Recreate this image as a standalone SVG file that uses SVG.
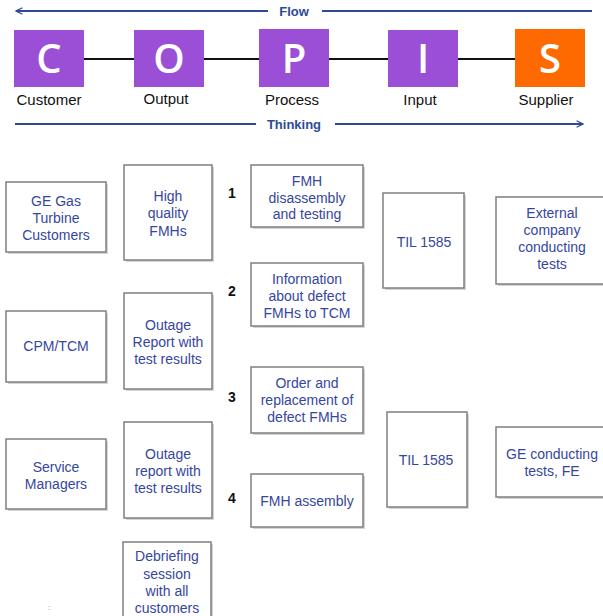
<svg xmlns="http://www.w3.org/2000/svg" width="603" height="616" viewBox="0 0 603 616">
<style>
.bg{fill:#fff}
.let{fill:#fff;font-family:"Open Sans","Liberation Sans",Arial,sans-serif;font-size:40px;font-weight:600;text-anchor:middle}
.lab{fill:#111;font-family:"Liberation Sans",Arial,sans-serif;font-size:15px;text-anchor:middle}
.axis{fill:#2E4A96;font-family:"Liberation Sans",Arial,sans-serif;font-size:13px;font-weight:bold;text-anchor:middle}
.ax{stroke:#2E4A96;stroke-width:2;fill:none}
.box{fill:#fff;stroke:#7f7f7f;stroke-width:1.5}
.sh{fill:#d4d4d4}
.t{fill:#3546A0;font-family:"Liberation Sans",Arial,sans-serif;font-size:14px;text-anchor:middle}
.num{fill:#111;font-family:"Liberation Sans",Arial,sans-serif;font-size:14px;font-weight:bold;text-anchor:middle}
</style>
<defs>
<marker id="ah" viewBox="0 0 10 10" refX="9" refY="5" markerWidth="8" markerHeight="8" orient="auto-start-reverse" markerUnits="userSpaceOnUse">
<path d="M1,1 L9,5 L1,9" fill="none" stroke="#2E4A96" stroke-width="1.6"/>
</marker>
</defs>
<rect class="bg" width="603" height="616"/>

<g id="connectors">
<line class="ax" x1="16" y1="11" x2="268" y2="11" marker-start="url(#ah)"/>
<line class="ax" x1="322" y1="11" x2="592" y2="11"/>
<line class="ax" x1="15" y1="124" x2="256" y2="124"/>
<line class="ax" x1="335" y1="124" x2="583" y2="124" marker-end="url(#ah)"/>
<line x1="84" y1="59" x2="515" y2="59" stroke="#111" stroke-width="2"/>
</g>
<text class="axis" x="294" y="16">Flow</text>
<text class="axis" x="294" y="129">Thinking</text>

<g id="C"><rect x="14" y="30" width="70" height="57" fill="#9B4FD6"/><text class="let" x="49" y="73">C</text><text class="lab" x="49" y="105">Customer</text></g>
<g id="O"><rect x="134" y="30" width="70" height="57" fill="#9B4FD6"/><text class="let" x="169" y="73">O</text><text class="lab" x="166" y="104">Output</text></g>
<g id="P"><rect x="259" y="29" width="70" height="58" fill="#9B4FD6"/><text class="let" x="294" y="73">P</text><text class="lab" x="292" y="105">Process</text></g>
<g id="I"><rect x="388" y="30" width="70" height="57" fill="#9B4FD6"/><text class="let" x="423" y="73">I</text><text class="lab" x="420" y="105">Input</text></g>
<g id="S"><rect x="515" y="29" width="70" height="58" fill="#FF6A00"/><text class="let" x="550" y="73">S</text><text class="lab" x="546" y="105">Supplier</text></g>

<g id="n-ge-customers"><rect class="sh" x="8" y="184" width="100" height="70"/><rect class="box" x="6" y="182" width="100" height="70"/>
<text class="t" x="56" y="206">GE Gas</text><text class="t" x="56" y="223">Turbine</text><text class="t" x="56" y="240">Customers</text></g>
<g id="n-cpm"><rect class="sh" x="8" y="313" width="100" height="71"/><rect class="box" x="6" y="311" width="100" height="71"/>
<text class="t" x="56" y="351">CPM/TCM</text></g>
<g id="n-service"><rect class="sh" x="8" y="441" width="100" height="70"/><rect class="box" x="6" y="439" width="100" height="70"/>
<text class="t" x="56" y="472">Service</text><text class="t" x="56" y="489">Managers</text></g>

<g id="n-high"><rect class="sh" x="126" y="167" width="88" height="95"/><rect class="box" x="124" y="165" width="88" height="95"/>
<text class="t" x="168" y="201">High</text><text class="t" x="168" y="218">quality</text><text class="t" x="168" y="236">FMHs</text></g>
<g id="n-outage1"><rect class="sh" x="126" y="295" width="88" height="96"/><rect class="box" x="124" y="293" width="88" height="96"/>
<text class="t" x="168" y="330">Outage</text><text class="t" x="168" y="347">Report with</text><text class="t" x="168" y="364">test results</text></g>
<g id="n-outage2"><rect class="sh" x="126" y="424" width="88" height="96"/><rect class="box" x="124" y="422" width="88" height="96"/>
<text class="t" x="168" y="459">Outage</text><text class="t" x="168" y="476">report with</text><text class="t" x="168" y="493">test results</text></g>
<g id="n-debrief"><rect class="sh" x="125" y="544" width="88" height="80"/><rect class="box" x="123" y="542" width="88" height="80"/>
<text class="t" x="167" y="561">Debriefing</text><text class="t" x="167" y="579">session</text><text class="t" x="167" y="596">with all</text><text class="t" x="167" y="613">customers</text></g>

<text class="num" x="232" y="198">1</text>
<text class="num" x="232" y="296">2</text>
<text class="num" x="232" y="402">3</text>
<text class="num" x="232" y="503">4</text>

<g id="n-disassembly"><rect class="sh" x="253" y="167" width="112" height="62"/><rect class="box" x="251" y="165" width="112" height="62"/>
<text class="t" x="307" y="186">FMH</text><text class="t" x="307" y="203">disassembly</text><text class="t" x="307" y="219">and testing</text></g>
<g id="n-info"><rect class="sh" x="253" y="265" width="112" height="63"/><rect class="box" x="251" y="263" width="112" height="63"/>
<text class="t" x="307" y="284">Information</text><text class="t" x="307" y="301">about defect</text><text class="t" x="307" y="318">FMHs to TCM</text></g>
<g id="n-order"><rect class="sh" x="253" y="369" width="112" height="66"/><rect class="box" x="251" y="367" width="112" height="66"/>
<text class="t" x="307" y="388">Order and</text><text class="t" x="307" y="405">replacement of</text><text class="t" x="307" y="422">defect FMHs</text></g>
<g id="n-assembly"><rect class="sh" x="253" y="476" width="112" height="53"/><rect class="box" x="251" y="474" width="112" height="53"/>
<text class="t" x="307" y="506">FMH assembly</text></g>

<g id="n-til1"><rect class="sh" x="385" y="195" width="81" height="95"/><rect class="box" x="383" y="193" width="81" height="95"/>
<text class="t" x="424" y="247">TIL 1585</text></g>
<g id="n-til2"><rect class="sh" x="389" y="414" width="80" height="95"/><rect class="box" x="387" y="412" width="80" height="95"/>
<text class="t" x="426" y="465">TIL 1585</text></g>

<g id="n-external"><rect class="sh" x="498" y="199" width="110" height="87"/><rect class="box" x="496" y="197" width="110" height="87"/>
<text class="t" x="552" y="218">External</text><text class="t" x="552" y="235">company</text><text class="t" x="552" y="252">conducting</text><text class="t" x="552" y="269">tests</text></g>
<g id="n-ge-tests"><rect class="sh" x="498" y="429" width="110" height="70"/><rect class="box" x="496" y="427" width="110" height="70"/>
<text class="t" x="552" y="459">GE conducting</text><text class="t" x="552" y="476">tests, FE</text></g>

<text x="49" y="610" fill="#777" font-family="Liberation Sans, Arial, sans-serif" font-size="8" text-anchor="middle">:</text>
</svg>
